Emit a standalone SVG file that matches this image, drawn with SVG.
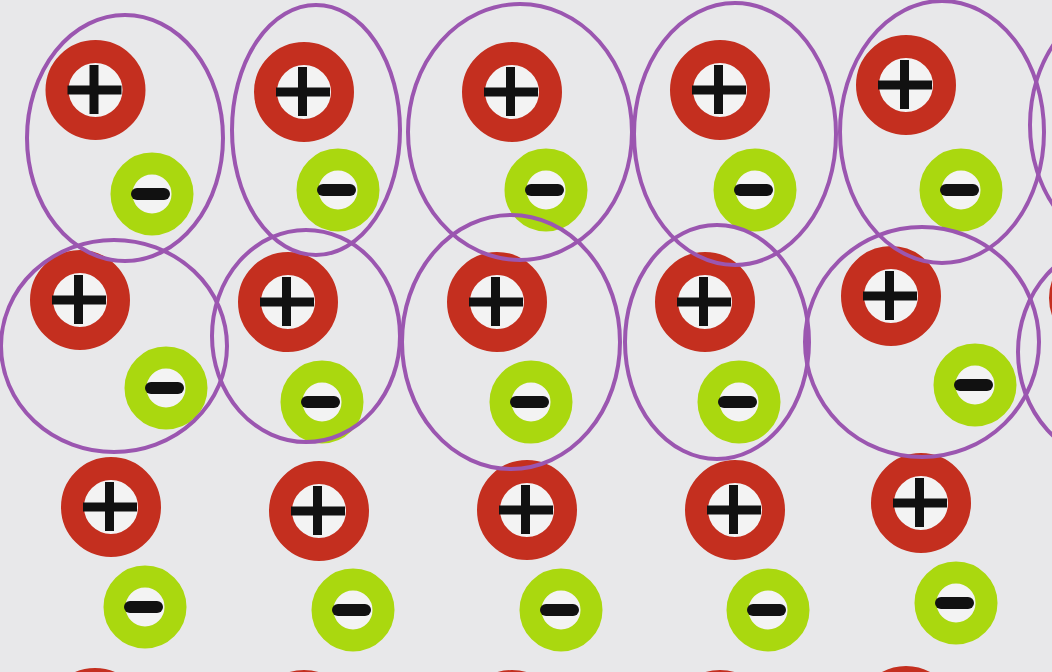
<svg xmlns="http://www.w3.org/2000/svg" xmlns:xlink="http://www.w3.org/1999/xlink" width="1052" height="672" viewBox="0 0 1052 672">
<style>
.ring-p{fill:#f3f3f3;stroke:#c42f1f;stroke-width:23}
.ring-n{fill:#f3f3f3;stroke:#aad80f;stroke-width:22}
.bar{fill:#111}
.dipole{fill:none;stroke:#9b56b0;stroke-width:4}
</style>
<defs>
<g id="pos">
<circle class="ring-p" r="38.5"/>
<rect class="bar" x="-28" y="-4.5" width="54" height="9"/>
<rect class="bar" x="-6" y="-25" width="9" height="49"/>
</g>
<g id="neg">
<circle class="ring-n" r="30.5"/>
<rect class="bar" x="-21" y="-6" width="39" height="12" rx="6"/>
</g>
</defs>
<rect width="1052" height="672" fill="#e8e8ea"/>
<g id="particles">
<g id="row1">
<use href="#pos" x="95.5" y="90"/><use href="#neg" x="152" y="194"/>
<use href="#pos" x="304" y="92"/><use href="#neg" x="338" y="190"/>
<use href="#pos" x="512" y="92"/><use href="#neg" x="546" y="190"/>
<use href="#pos" x="720" y="90"/><use href="#neg" x="755" y="190"/>
<use href="#pos" x="906" y="85"/><use href="#neg" x="961" y="190"/>
</g>
<g id="row2">
<use href="#pos" x="80" y="300"/><use href="#neg" x="166" y="388"/>
<use href="#pos" x="288" y="302"/><use href="#neg" x="322" y="402"/>
<use href="#pos" x="497" y="302"/><use href="#neg" x="531" y="402"/>
<use href="#pos" x="705" y="302"/><use href="#neg" x="739" y="402"/>
<use href="#pos" x="891" y="296"/><use href="#neg" x="975" y="385"/>
<use href="#pos" x="1099" y="298"/>
</g>
<g id="row3">
<use href="#pos" x="111" y="507"/><use href="#neg" x="145" y="607"/>
<use href="#pos" x="319" y="511"/><use href="#neg" x="353" y="610"/>
<use href="#pos" x="527" y="510"/><use href="#neg" x="561" y="610"/>
<use href="#pos" x="735" y="510"/><use href="#neg" x="768" y="610"/>
<use href="#pos" x="921" y="503"/><use href="#neg" x="956" y="603"/>
</g>
<g id="row4">
<use href="#pos" x="95" y="718"/>
<use href="#pos" x="304" y="720"/>
<use href="#pos" x="512" y="720"/>
<use href="#pos" x="720" y="720"/>
<use href="#pos" x="906" y="716"/>
</g>
</g>
<g id="dipoles">
<ellipse class="dipole" cx="125" cy="138" rx="98" ry="123"/>
<ellipse class="dipole" cx="316" cy="130" rx="84" ry="125"/>
<ellipse class="dipole" cx="520" cy="132" rx="112" ry="128"/>
<ellipse class="dipole" cx="735" cy="134" rx="101" ry="131"/>
<ellipse class="dipole" cx="942" cy="132" rx="102" ry="131"/>
<ellipse class="dipole" cx="1130" cy="125" rx="100" ry="125"/>
<ellipse class="dipole" cx="114" cy="346" rx="113" ry="106"/>
<ellipse class="dipole" cx="306" cy="336" rx="94" ry="106"/>
<ellipse class="dipole" cx="511" cy="342" rx="109" ry="127"/>
<ellipse class="dipole" cx="717" cy="342" rx="92" ry="117"/>
<ellipse class="dipole" cx="922" cy="342" rx="117" ry="115"/>
<ellipse class="dipole" cx="1118" cy="352" rx="100" ry="110"/>
</g>
</svg>
